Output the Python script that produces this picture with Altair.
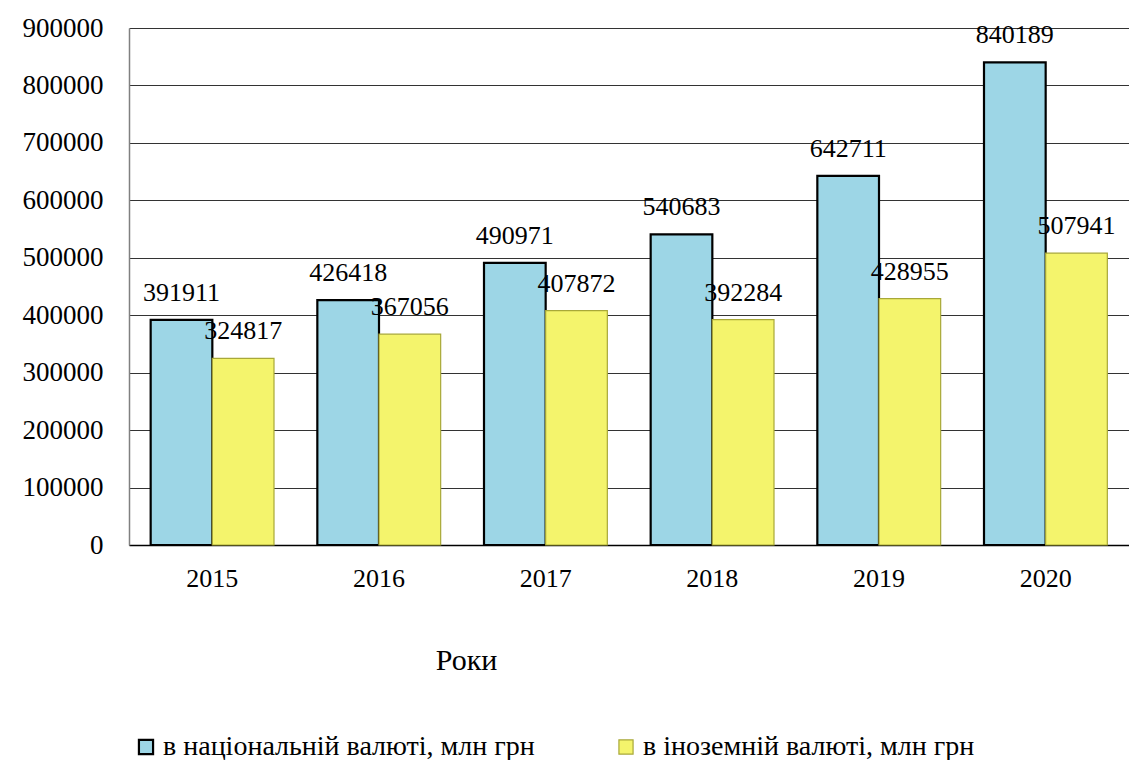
import altair as alt
import pandas as pd

years = ["2015", "2016", "2017", "2018", "2019", "2020"]
national = [391911, 426418, 490971, 540683, 642711, 840189]
foreign = [324817, 367056, 407872, 392284, 428955, 507941]
series_names = ["в національній  валюті, млн грн", "в іноземній  валюті, млн грн"]
y_ticks = [0, 100000, 200000, 300000, 400000, 500000, 600000, 700000, 800000, 900000]

rows = []
for i, yr in enumerate(years):
    rows.append({"year": yr, "series": series_names[0], "value": national[i]})
    rows.append({"year": yr, "series": series_names[1], "value": foreign[i]})
df = pd.DataFrame(rows)

FONT = "Times New Roman, Liberation Serif, serif"

x_enc = alt.X(
    "year:N",
    sort=years,
    scale=alt.Scale(paddingInner=0.26, paddingOuter=0.13),
    axis=alt.Axis(
        title="Роки",
        titleFont=FONT,
        titleFontSize=30,
        titleFontWeight="normal",
        titleColor="black",
        titleX=337,
        titleY=115,
        titleAlign="center",
        titleBaseline="middle",
        labelAngle=0,
        labelFont=FONT,
        labelFontSize=26,
        labelColor="black",
        labelPadding=20,
        ticks=False,
        domainColor="black",
        domainWidth=1.5,
        grid=False,
    ),
)
xoff = alt.XOffset("series:N", sort=series_names, scale=alt.Scale(paddingInner=0, paddingOuter=0))
y_enc = alt.Y(
    "value:Q",
    scale=alt.Scale(domain=[0, 900000], nice=False),
    axis=alt.Axis(
        title=None,
        values=y_ticks,
        format="d",
        labelFont=FONT,
        labelFontSize=27,
        labelColor="black",
        labelPadding=26,
        ticks=False,
        domainColor="#808080",
        domainWidth=1.5,
        grid=True,
        gridColor="#333333",
        gridWidth=1,
    ),
)

bars = alt.Chart(df).mark_bar().encode(
    x=x_enc,
    xOffset=xoff,
    y=y_enc,
    color=alt.Color(
        "series:N",
        sort=series_names,
        scale=alt.Scale(domain=series_names, range=["#9DD6E6", "#F4F46C"]),
        legend=alt.Legend(
            title=None,
            orient="none",
            direction="horizontal",
            legendX=3,
            legendY=705,
            labelFont=FONT,
            labelFontSize=28,
            labelColor="black",
            symbolType="square",
            symbolSize=200,
            symbolStrokeColor="black",
            symbolStrokeWidth=1.5,
            columnPadding=70,
            labelOffset=3,
            labelLimit=600,
        ),
    ),
    stroke=alt.Stroke(
        "series:N",
        sort=series_names,
        scale=alt.Scale(domain=series_names, range=["#000000", "#A8A838"]),
        legend=None,
    ),
    strokeWidth=alt.StrokeWidth(
        "series:N",
        scale=alt.Scale(domain=series_names, range=[2.2, 1.2]),
        legend=None,
    ),
)

labels = alt.Chart(df).mark_text(
    font=FONT, fontSize=26, color="black", dy=-27, align="center", baseline="middle"
).encode(
    x=alt.X("year:N", sort=years),
    xOffset=alt.XOffset("series:N", sort=series_names),
    y="value:Q",
    text=alt.Text("value:Q", format="d"),
)

chart = (
    alt.layer(bars, labels)
    .properties(
        width=1000,
        height=517,
        autosize=alt.AutoSizeParams(type="none"),
        padding={"left": 121, "top": 20, "right": 0, "bottom": 225},
        background="white",
    )
    .configure_view(stroke=None)
)

chart.save("out.html", embed_options={"renderer": "svg", "actions": False})
